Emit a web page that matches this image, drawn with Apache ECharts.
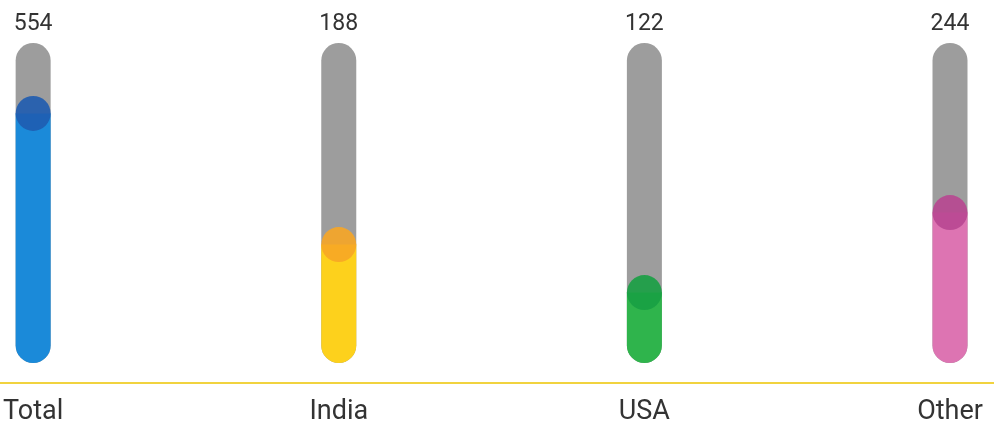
<!DOCTYPE html>
<html><head><meta charset="utf-8">
<script src="https://cdn.jsdelivr.net/npm/echarts@6/dist/echarts.min.js"></script>
<style>html,body{margin:0;padding:0;background:#fff}#c{width:994px;height:428px}</style>
</head><body><div id="c"></div>
<script>
var categories = ['Total', 'India', 'USA', 'Other'];
var counts = [554, 188, 122, 244];
var fillPercent = [78, 37, 22, 47];
var trackMax = [100, 100, 100, 100];
var barColors = ['#1b8ad9', '#fdd11c', '#2fb44c', '#dd74b2'];
var capColors = ['#1f5cb0', '#f7a626', '#18a044', '#b84791'];

var chart = echarts.init(document.getElementById('c'));
chart.setOption({
  animation: false,
  grid: [
    { left: 29, right: 44, top: 43, bottom: 45 },
    { left: 0, right: 0, top: 43, bottom: 45 }
  ],
  xAxis: [
    {
      type: 'category', data: categories, boundaryGap: false, gridIndex: 0,
      axisLine: { show: false },
      axisTick: { show: false },
      axisLabel: { fontFamily: 'Roboto', fontSize: 27, color: '#333', margin: 16 }
    },
    {
      type: 'category', data: categories, boundaryGap: true, gridIndex: 1,
      axisLine: { lineStyle: { color: '#f1d33f', width: 2 } },
      axisTick: { show: false },
      axisLabel: { show: false }
    }
  ],
  yAxis: [
    { type: 'value', min: -6.25, max: 100, show: false, splitLine: { show: false }, gridIndex: 0 },
    { type: 'value', min: 0, max: 100, show: false, splitLine: { show: false }, gridIndex: 1 }
  ],
  series: [
    {
      type: 'bar', barWidth: 35, barGap: '-100%', z: 1,
      data: trackMax.map(function (v, i) { return { value: v, label: { formatter: String(counts[i]) } }; }),
      itemStyle: { color: '#9d9d9d', borderRadius: 17.5 },
      label: { show: true, position: 'top', distance: 7, fontFamily: 'Roboto', fontSize: 23, color: '#333' }
    },
    {
      type: 'bar', barWidth: 35, barGap: '-100%', z: 2,
      data: fillPercent.map(function (v, i) { return { value: v, itemStyle: { color: barColors[i] } }; }),
      itemStyle: { borderRadius: [0, 0, 17.5, 17.5] }
    },
    {
      type: 'scatter', symbolSize: 35, z: 3,
      data: fillPercent.map(function (v, i) { return { value: [i, v], itemStyle: { color: capColors[i], opacity: 0.9 } }; })
    }
  ]
});
</script></body></html>
